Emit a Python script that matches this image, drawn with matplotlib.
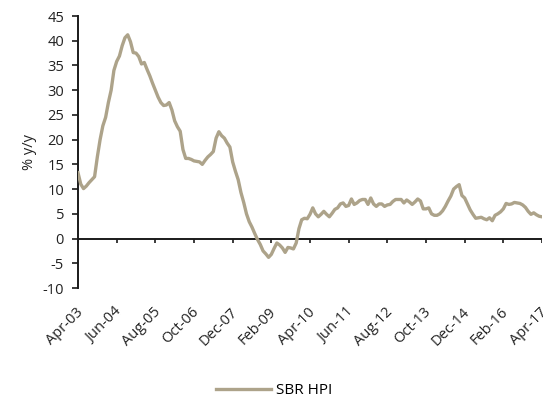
import numpy as np
import matplotlib
matplotlib.use("Agg")
import matplotlib.pyplot as plt
import matplotlib.transforms as mtransforms

plt.rcParams['font.family'] = ['Open Sans', 'DejaVu Sans']
plt.rcParams['axes.unicode_minus'] = False

series_name = "SBR HPI"
tick_labels = ["Apr-03", "Jun-04", "Aug-05", "Oct-06", "Dec-07", "Feb-09", "Apr-10",
               "Jun-11", "Aug-12", "Oct-13", "Dec-14", "Feb-16", "Apr-17"]
# monthly % y/y, Apr-03 .. Apr-17
hpi = [
    13.3, 11.0, 10.1, 10.6, 11.3, 11.9, 12.5, 16.5, 20.0, 22.8,
    24.5, 27.5, 30.0, 34.0, 35.8, 36.9, 39.0, 40.6, 41.2, 39.8,
    37.6, 37.5, 36.8, 35.3, 35.6, 34.2, 32.9, 31.4, 30.0, 28.6,
    27.5, 26.9, 27.0, 27.5, 26.0, 23.8, 22.6, 21.7, 18.0, 16.2,
    16.2, 16.0, 15.7, 15.6, 15.5, 15.0, 15.8, 16.5, 17.0, 17.6,
    20.3, 21.6, 20.8, 20.3, 19.3, 18.5, 15.5, 13.6, 11.9, 9.3,
    7.3, 5.0, 3.4, 2.3, 1.0, -0.2, -1.2, -2.5, -3.1, -3.8,
    -3.2, -2.0, -0.9, -1.3, -1.9, -2.8, -1.8, -1.9, -2.1, -0.9,
    2.0, 3.8, 4.1, 4.0, 4.9, 6.2, 5.0, 4.4, 4.9, 5.5,
    4.9, 4.4, 5.1, 5.9, 6.2, 7.0, 7.2, 6.5, 6.7, 8.0,
    6.9, 7.2, 7.7, 7.9, 7.9, 6.9, 8.2, 7.0, 6.5, 7.0,
    7.0, 6.5, 6.8, 6.9, 7.5, 7.9, 7.9, 7.9, 7.2, 7.8,
    7.4, 6.9, 7.4, 8.0, 7.6, 6.0, 6.0, 6.2, 5.0, 4.7,
    4.7, 5.0, 5.6, 6.5, 7.6, 8.6, 10.0, 10.5, 10.9, 8.7,
    8.2, 7.0, 5.8, 4.9, 4.1, 4.2, 4.3, 4.0, 3.8, 4.2,
    3.6, 4.7, 5.0, 5.4, 6.0, 7.1, 6.9, 7.0, 7.3, 7.2,
    7.1, 6.8, 6.3, 5.5, 4.9, 5.2, 4.8, 4.5, 4.4,
]
y_ticks = list(range(-10, 50, 5))
tick_step = 14

color = "#ADA38A"
ink = "#1a1a1a"
txt = "#222222"

fig = plt.figure(figsize=(5.43, 4.01), dpi=100)
ax = fig.add_axes([78/543, 1 - 288/401, (542 - 78)/543, (288 - 16)/401])

x = np.arange(len(hpi))
line, = ax.plot(x, hpi, color=color, lw=2.4, solid_joinstyle='round', label=series_name, zorder=3)

ax.set_xlim(0, len(hpi) - 1)
ax.set_ylim(-10, 45)
ax.set_yticks(y_ticks)
ax.tick_params(axis='y', direction='out', length=4, width=1.2, color=ink, labelsize=10.5, labelcolor=txt, pad=6)

xt = np.arange(0, len(hpi), tick_step)
ax.set_xticks(xt)
ax.set_xticklabels(tick_labels, rotation=45, ha='right', va='center', rotation_mode='anchor',
                   fontsize=10.5, color=txt)
ax.tick_params(axis='x', length=0, pad=0)
offset = mtransforms.ScaledTranslation(3/100, -22/100, fig.dpi_scale_trans)
for lab in ax.get_xticklabels():
    lab.set_transform(lab.get_transform() + offset)

# zero line acting as x axis, with small ticks below it
ax.axhline(0, color=ink, lw=1.4, zorder=2)
ax.vlines(xt, -1.0, 0, color=ink, lw=1.2, zorder=2)

for s in ['top', 'right', 'bottom']:
    ax.spines[s].set_visible(False)
ax.spines['left'].set_color(ink)
ax.spines['left'].set_linewidth(1.4)

ax.set_ylabel("% y/y", fontsize=10.5, color=txt, labelpad=4)

fig.legend(handles=[line], labels=[series_name], loc='center', bbox_to_anchor=(0.505, 0.025),
           frameon=False, fontsize=11, handlelength=3.6, handletextpad=0.35)

fig.savefig("out.png", dpi=100)
